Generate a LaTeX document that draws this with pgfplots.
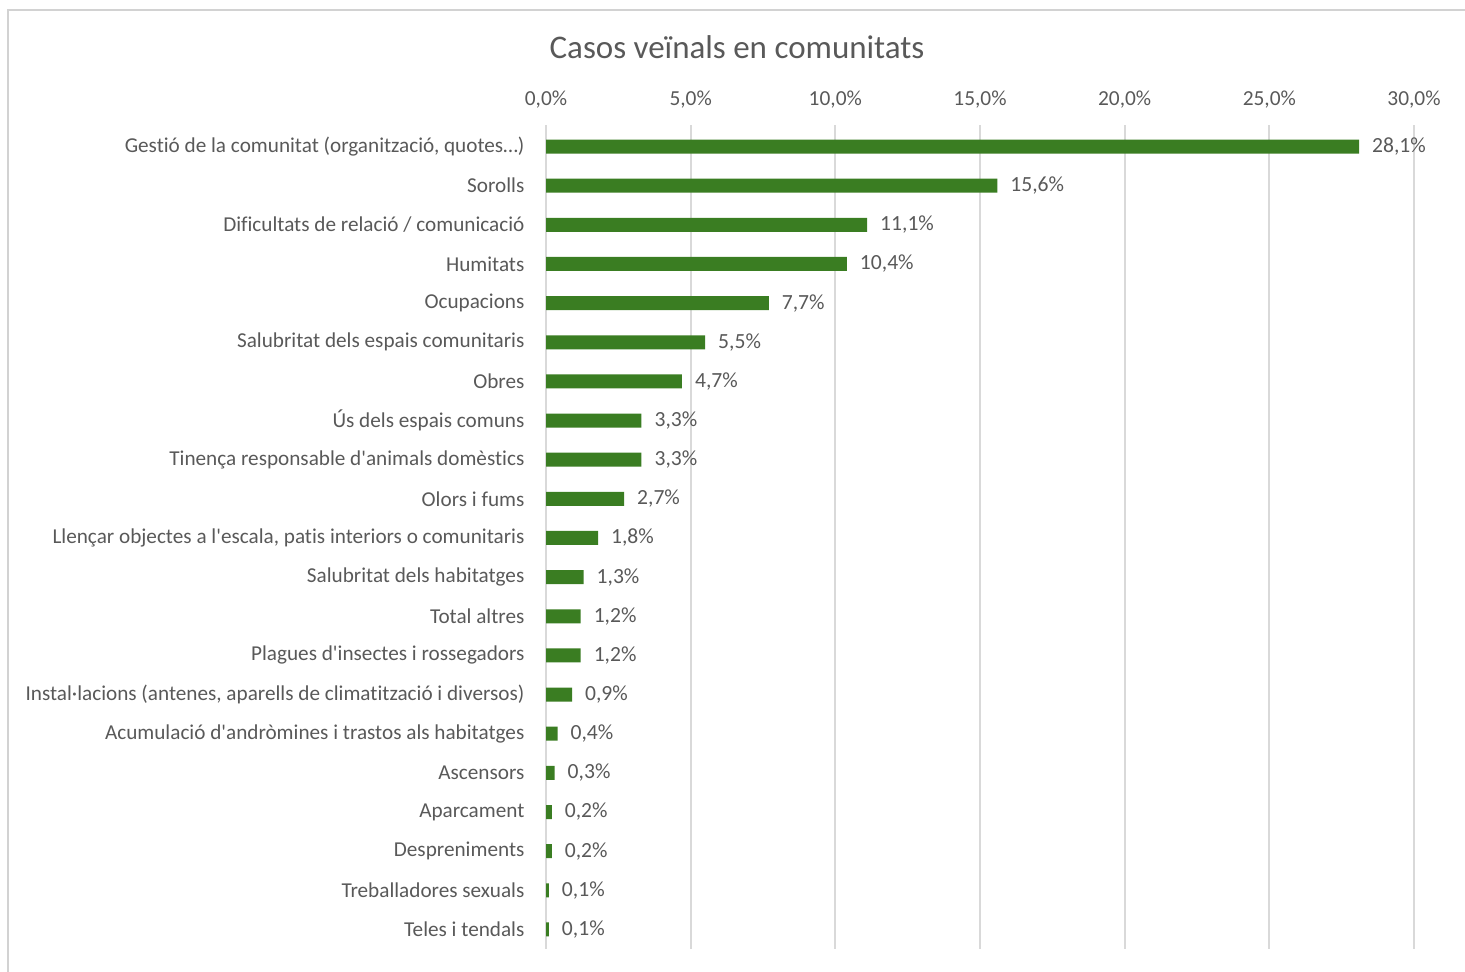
\documentclass[border=0pt]{standalone}
\usepackage{pgfplots}
\pgfplotsset{compat=1.18}
\usepackage{fontspec}
\setmainfont{Carlito}[Ligatures={TeXOff,NoCommon}]
\definecolor{barra}{RGB}{58,125,34}
\definecolor{graella}{RGB}{217,217,217}
\definecolor{textgris}{RGB}{89,89,89}
\definecolor{marc}{RGB}{210,210,210}

\begin{document}
\begin{tikzpicture}[x=1pt,y=1pt]
\useasboundingbox (0,0) rectangle (732.5,-486);
\draw[marc, line width=1pt] (4,-486) -- (4,-5) -- (732.5,-5);
\node[textgris, font=\fontsize{16.5}{18}\selectfont] at (368.5,-23.5) {Casos veïnals en comunitats};
\begin{axis}[
    at={(273pt,-62.5pt)}, anchor=north west,
    scale only axis,
    width=434pt, height=412pt,
    xbar, bar width=7pt,
    xmin=0, xmax=30,
    ymin=-0.55, ymax=20.5,
    y dir=reverse,
    xtick={0,5,...,30},
    ytick={0,...,20},
    yticklabels={
        {Gestió de la comunitat (organització, quotes\ldots)},
        {Sorolls},
        {Dificultats de relació / comunicació},
        {Humitats},
        {Ocupacions},
        {Salubritat dels espais comunitaris},
        {Obres},
        {Ús dels espais comuns},
        {Tinença responsable d'animals domèstics},
        {Olors i fums},
        {Llençar objectes a l'escala, patis interiors o comunitaris},
        {Salubritat dels habitatges},
        {Total altres},
        {Plagues d'insectes i rossegadors},
        {Instal·lacions (antenes, aparells de climatització i diversos)},
        {Acumulació d'andròmines i trastos als habitatges},
        {Ascensors},
        {Aparcament},
        {Despreniments},
        {Treballadores sexuals},
        {Teles i tendals}},
    xticklabel pos=upper,
    xmajorgrids,
    major grid style={graella, line width=1pt},
    axis line style={draw=none},
    tick style={draw=none},
    /pgf/number format/assume math mode=true,
    xticklabel={\pgfmathprintnumber[fixed,fixed zerofill,precision=1,use comma]{\tick}\%},
    xticklabel style={font=\fontsize{10.7}{12}\selectfont, text=textgris, yshift=5pt},
    yticklabel style={font=\fontsize{10.6}{12}\selectfont, text=textgris, xshift=-3pt},
    nodes near coords={\pgfmathprintnumber[fixed,fixed zerofill,precision=1,use comma]{\pgfplotspointmeta}\%},
    nodes near coords style={font=\fontsize{10.8}{12}\selectfont, text=textgris, anchor=west, xshift=3pt},
    clip=false,
]
\addplot[fill=barra, draw=none] coordinates {
    (28.1,0) (15.6,1) (11.1,2) (10.4,3) (7.7,4) (5.5,5) (4.7,6)
    (3.3,7) (3.3,8) (2.7,9) (1.8,10) (1.3,11) (1.2,12) (1.2,13)
    (0.9,14) (0.4,15) (0.3,16) (0.2,17) (0.2,18) (0.1,19) (0.1,20)
};
\end{axis}
\end{tikzpicture}
\end{document}
